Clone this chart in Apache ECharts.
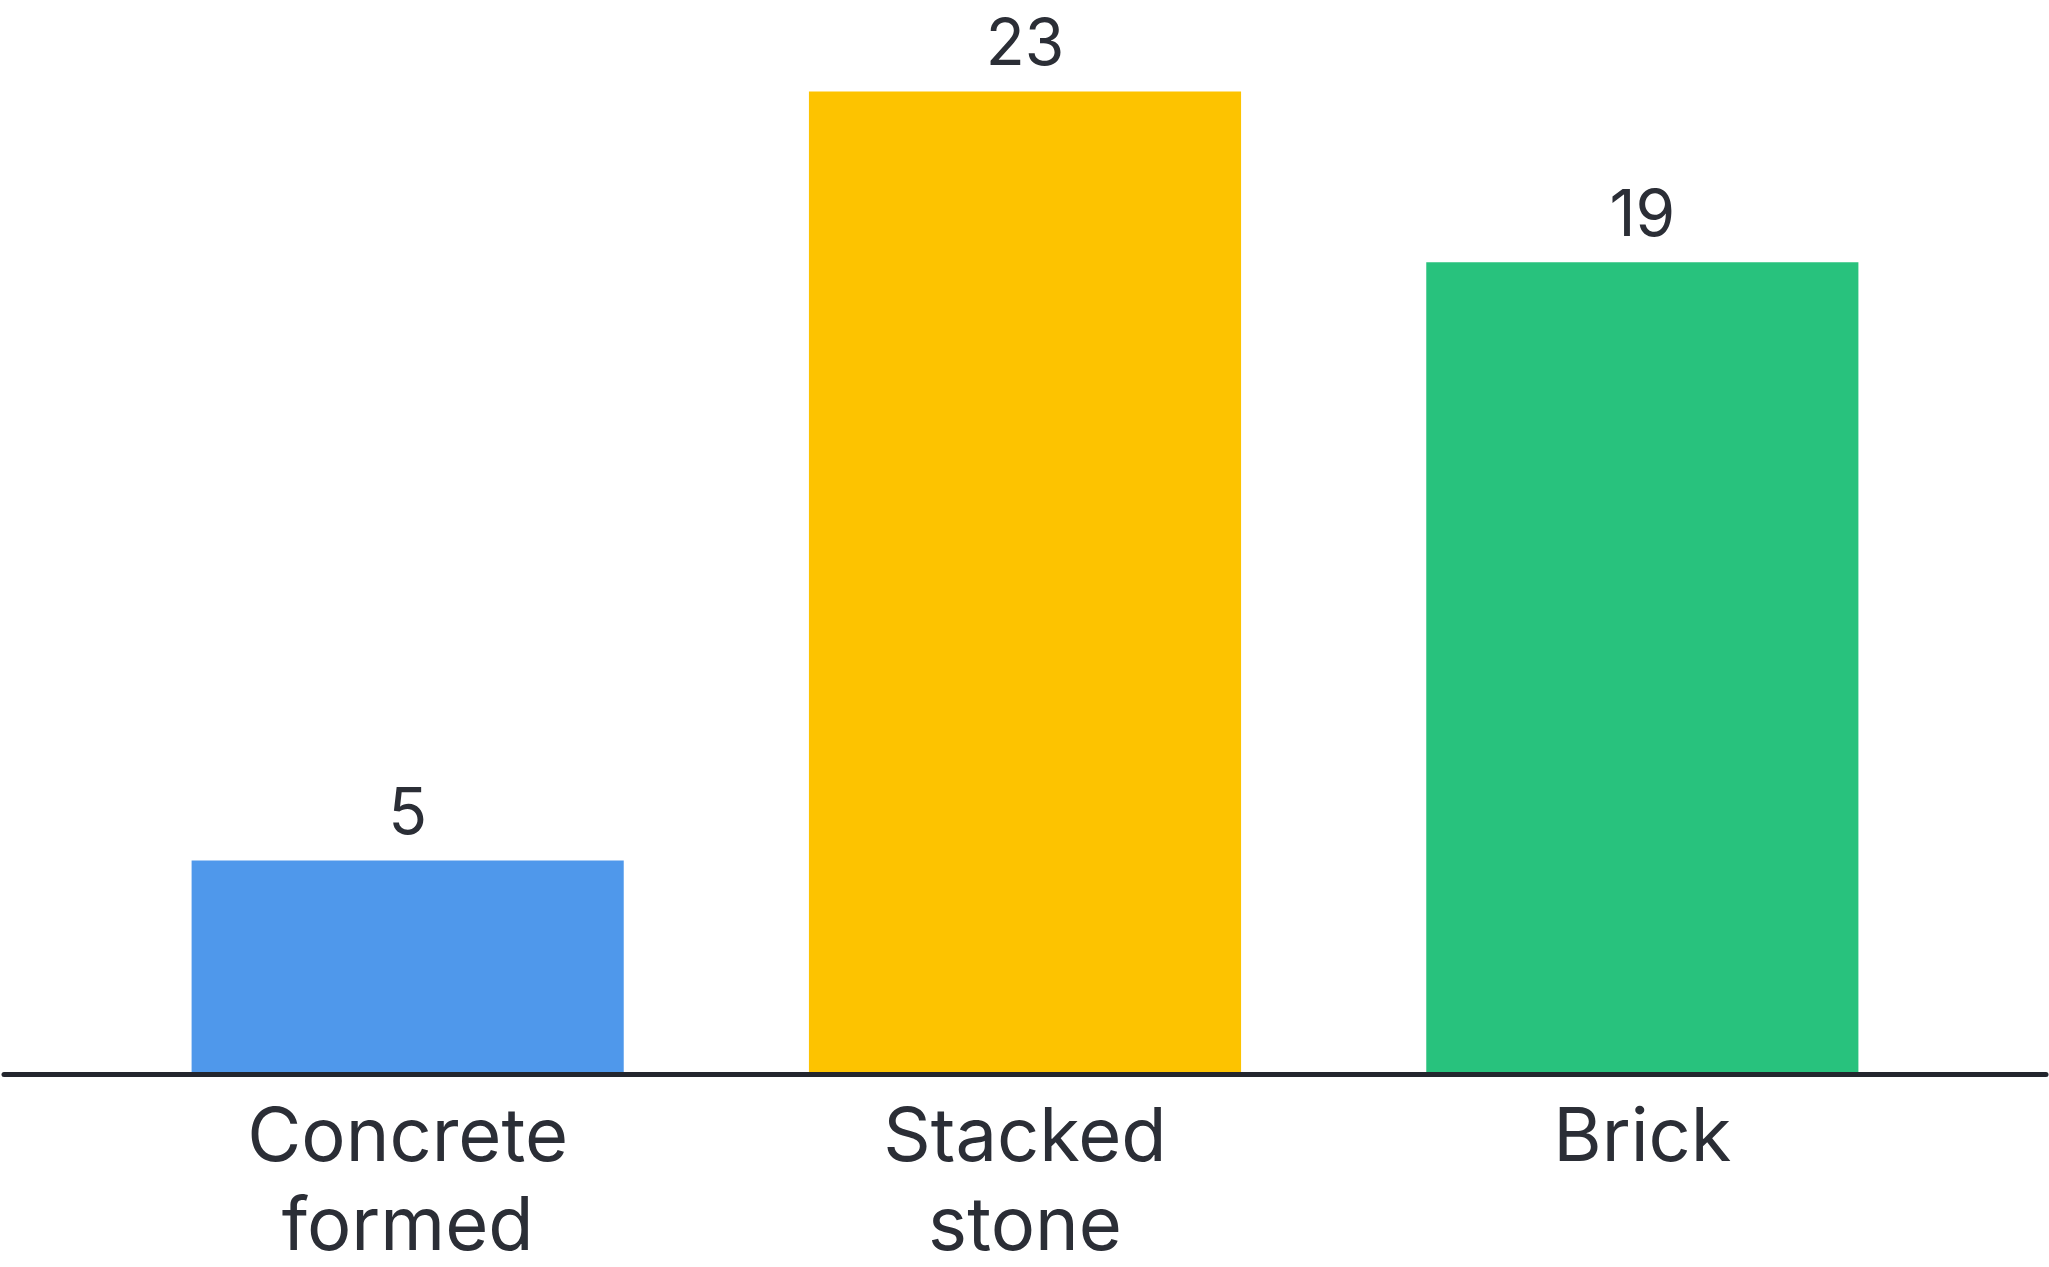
<!DOCTYPE html>
<html>
<head>
<meta charset="utf-8">
<script src="https://cdn.jsdelivr.net/npm/echarts@6/dist/echarts.min.js"></script>
<style>
html,body{margin:0;padding:0;background:#fff;}
#c{width:2049px;height:1267px;}
</style>
</head>
<body>
<div id="c"></div>
<script>
const categories = ['Concrete\nformed', 'Stacked\nstone', 'Brick'];
const values = [5, 23, 19];
const colors = ['#4F98EB', '#FDC300', '#28C27D'];

const textColor = '#2B2E36';
const fontFamily = 'Inter, "Noto Sans", sans-serif';

const chart = echarts.init(document.getElementById('c'));
chart.setOption({
  backgroundColor: '#ffffff',
  animation: false,
  grid: [
    { left: 99, right: 98, top: 6, bottom: 193, outerBoundsMode: 'none', containLabel: false },
    { left: 4, right: 3, top: 6, bottom: 193, outerBoundsMode: 'none', containLabel: false }
  ],
  xAxis: [
    {
      gridIndex: 0,
      type: 'category',
      data: categories,
      axisLine: { show: false },
      axisTick: { show: false },
      axisLabel: {
        color: textColor,
        fontSize: 74,
        lineHeight: 89,
        fontFamily: fontFamily,
        margin: 20,
        interval: 0
      }
    },
    {
      gridIndex: 1,
      type: 'category',
      data: [''],
      z: 10,
      axisLine: { show: true, lineStyle: { color: '#23262E', width: 5 } },
      axisTick: { show: false },
      axisLabel: { show: false }
    }
  ],
  yAxis: [
    { gridIndex: 0, type: 'value', min: 0, max: 25, show: false },
    { gridIndex: 1, type: 'value', min: 0, max: 25, show: false }
  ],
  series: [
    {
      type: 'bar',
      xAxisIndex: 0,
      yAxisIndex: 0,
      barWidth: '70%',
      data: values.map((v, i) => ({ value: v, itemStyle: { color: colors[i] } })),
      label: {
        show: true,
        position: 'top',
        distance: 14,
        color: textColor,
        fontSize: 64,
        fontFamily: fontFamily
      }
    }
  ]
});
</script>
</body>
</html>
